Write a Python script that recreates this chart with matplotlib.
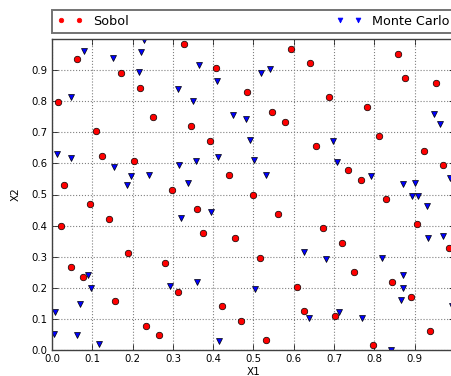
import matplotlib
matplotlib.use("Agg")
import matplotlib.pyplot as plt

sobol_x = [0.063, 0.016, 0.031, 0.172, 0.219, 0.250, 0.109, 0.125, 0.203, 0.297,
           0.328, 0.344, 0.391, 0.406, 0.438, 0.594, 0.641, 0.484, 0.547, 0.578,
           0.688, 0.781, 0.859, 0.875, 0.953, 0.812, 0.656, 0.922, 0.969, 0.734,
           0.766, 0.500, 0.828, 0.023, 0.094, 0.141, 0.047, 0.078, 0.188, 0.156,
           0.234, 0.266, 0.281, 0.312, 0.359, 0.375, 0.422, 0.562, 0.453, 0.516,
           0.672, 0.719, 0.906, 0.984, 0.750, 0.844, 0.609, 0.891, 0.625, 0.703,
           0.469, 0.938, 0.531, 0.797]
sobol_y = [0.937, 0.797, 0.531, 0.891, 0.844, 0.750, 0.703, 0.625, 0.609, 0.516,
           0.984, 0.719, 0.672, 0.906, 0.562, 0.969, 0.922, 0.828, 0.766, 0.734,
           0.812, 0.781, 0.953, 0.875, 0.859, 0.688, 0.656, 0.641, 0.594, 0.578,
           0.547, 0.500, 0.484, 0.398, 0.469, 0.422, 0.266, 0.234, 0.312, 0.156,
           0.078, 0.047, 0.281, 0.188, 0.453, 0.375, 0.141, 0.438, 0.359, 0.297,
           0.391, 0.344, 0.406, 0.328, 0.250, 0.219, 0.203, 0.172, 0.125, 0.109,
           0.094, 0.062, 0.031, 0.016]

mc_x = [0.079, 0.047, 0.012, 0.047, 0.151, 0.155, 0.197, 0.187, 0.216, 0.221,
        0.229, 0.241, 0.312, 0.315, 0.337, 0.350, 0.358, 0.364, 0.409, 0.411,
        0.519, 0.541, 0.448, 0.481, 0.492, 0.501, 0.530, 0.697, 0.706, 0.792,
        0.870, 0.901, 0.894, 0.908, 0.948, 0.962, 0.987, 0.089, 0.096, 0.008,
        0.069, 0.005, 0.061, 0.117, 0.320, 0.395, 0.294, 0.361, 0.414, 0.931,
        0.932, 0.970, 0.625, 0.679, 0.820, 0.871, 0.871, 0.503, 0.865, 0.992,
        0.713, 0.637, 0.768, 0.841]
mc_y = [0.963, 0.813, 0.630, 0.618, 0.940, 0.590, 0.558, 0.530, 0.894, 0.957,
        0.997, 0.564, 0.838, 0.594, 0.538, 0.800, 0.608, 0.915, 0.866, 0.620,
        0.891, 0.904, 0.757, 0.744, 0.676, 0.612, 0.562, 0.671, 0.603, 0.561,
        0.534, 0.536, 0.496, 0.496, 0.758, 0.727, 0.554, 0.240, 0.200, 0.121,
        0.148, 0.051, 0.049, 0.020, 0.425, 0.443, 0.207, 0.219, 0.029, 0.463,
        0.360, 0.368, 0.314, 0.292, 0.295, 0.242, 0.200, 0.197, 0.162, 0.141,
        0.122, 0.102, 0.102, 0.000]

xticks = [0.0, 0.1, 0.2, 0.3, 0.4, 0.5, 0.6, 0.7, 0.8, 0.9]
yticks = [0.0, 0.1, 0.2, 0.3, 0.4, 0.5, 0.6, 0.7, 0.8, 0.9]

fig = plt.figure(figsize=(4.52, 3.76), dpi=100)
W, H = 452, 376
ax = fig.add_axes([52 / W, (H - 350) / H, 403 / W, 311 / H])

ax.plot(sobol_x, sobol_y, 'o', color='red', markeredgecolor='black',
        markeredgewidth=0.5, markersize=4.7, label='Sobol')
ax.plot(mc_x, mc_y, 'v', color='blue', markeredgecolor='black',
        markeredgewidth=0.5, markersize=5.0, label='Monte Carlo')

ax.set_xlim(0, 1)
ax.set_ylim(0, 1)
ax.set_xticks(xticks)
ax.set_yticks(yticks)
ax.set_xticklabels([f"{t:.1f}" for t in xticks])
ax.set_yticklabels([f"{t:.1f}" for t in yticks])
ax.tick_params(direction='in', top=True, right=True, labelsize=7.3, length=4,
               width=0.5, pad=3)
ax.grid(True, color='0.5', linestyle=':', linewidth=0.8)
for s in ax.spines.values():
    s.set_linewidth(1.0)
    s.set_color('0.25')

ax.set_xlabel('X1', fontsize=7.5, labelpad=2)
ax.set_ylabel('X2', fontsize=7.5, labelpad=8)

leg = ax.legend(bbox_to_anchor=(0., 1.02, 1., .102), loc=3, ncol=2,
                mode="expand", borderaxespad=0., numpoints=2,
                fontsize=9.2, fancybox=False, framealpha=1.0,
                handlelength=2.0, markerscale=0.7)
leg.get_frame().set_edgecolor('0.45')
leg.get_frame().set_linewidth(1.4)
for h in leg.legend_handles:
    h.set_markeredgecolor(h.get_color())

fig.savefig('out.png', dpi=100)
